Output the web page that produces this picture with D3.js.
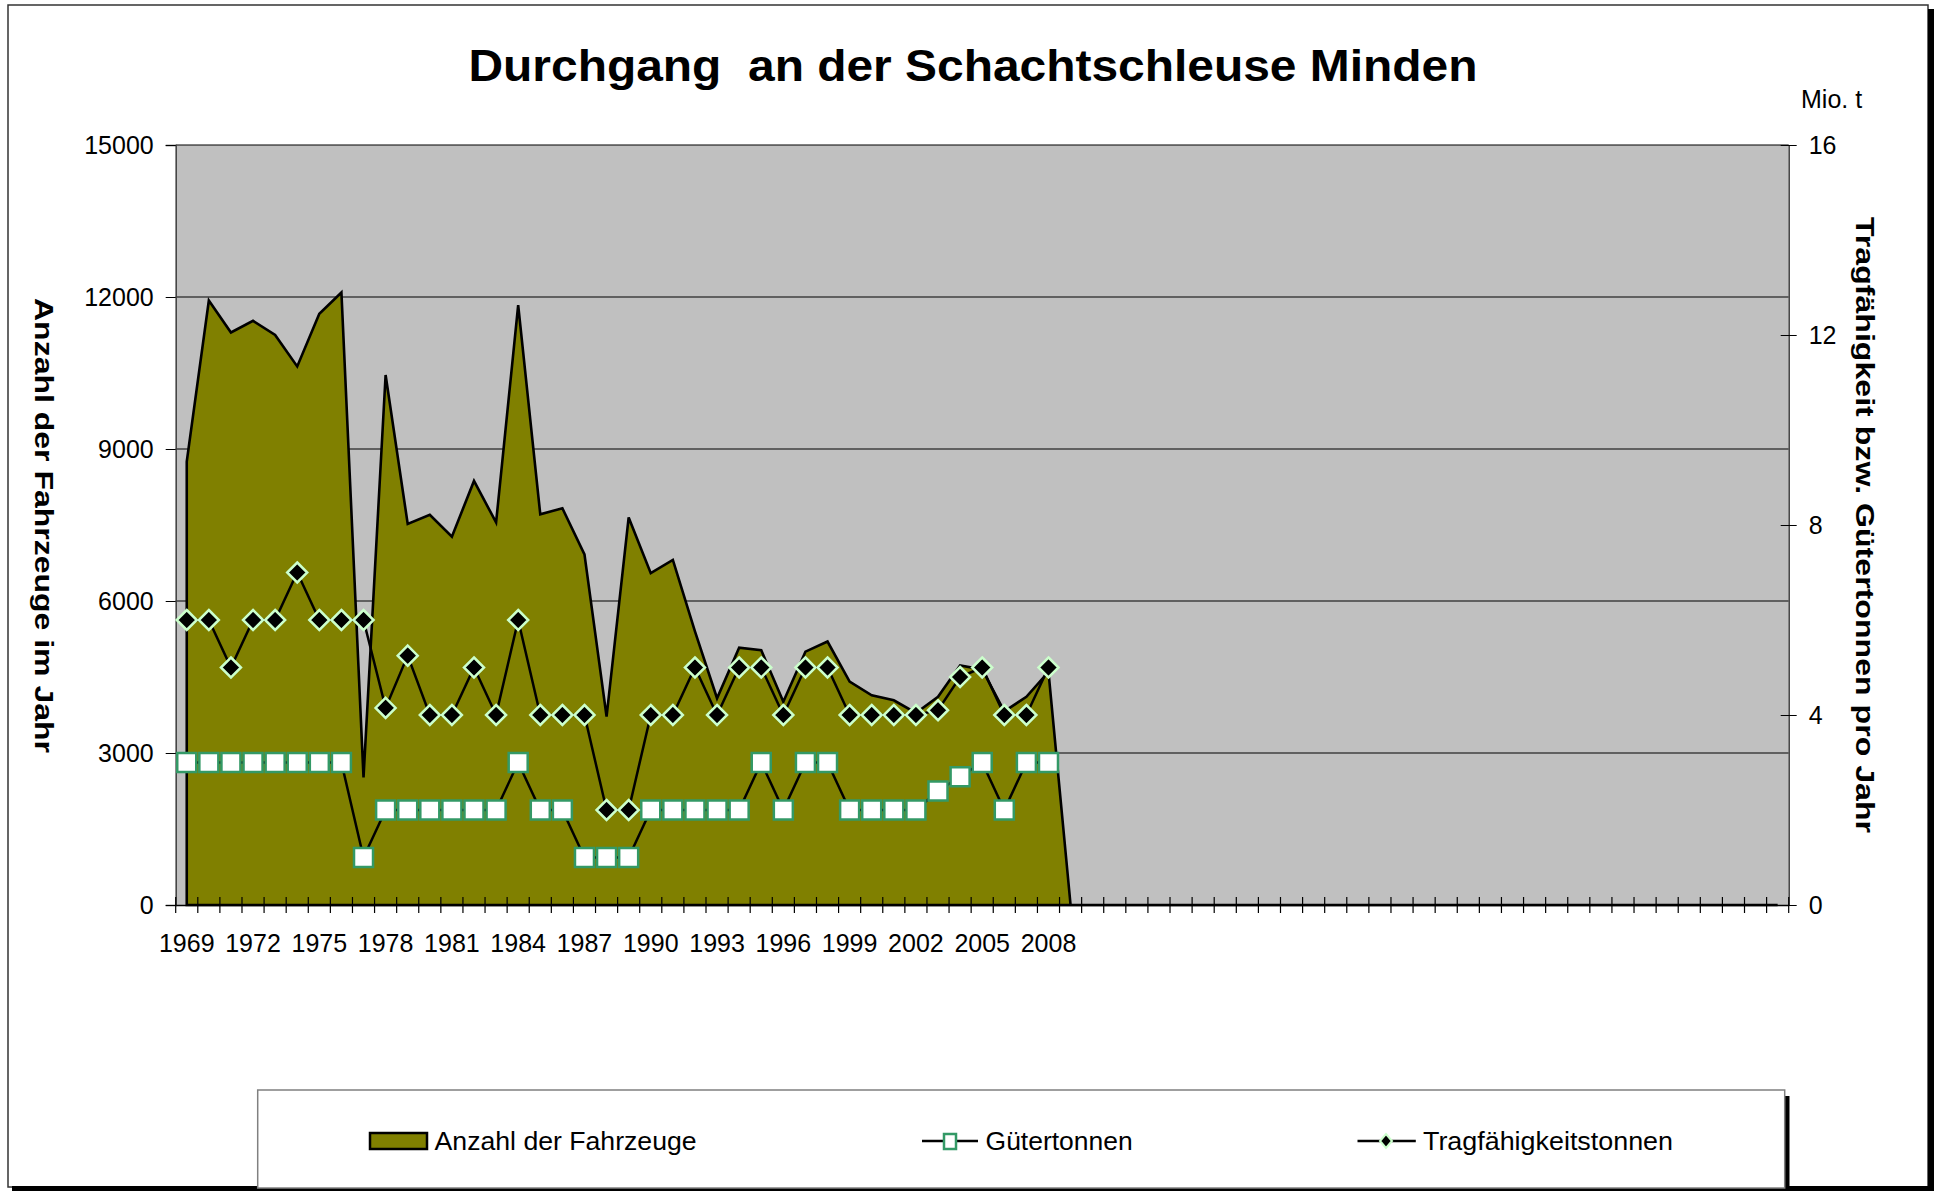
<!DOCTYPE html>
<html>
<head>
<meta charset="utf-8">
<script src="https://cdn.jsdelivr.net/npm/d3@7"></script>
<style>
  body { margin: 0; background: #fff; }
  svg { display: block; font-family: "Liberation Sans", Arial, sans-serif; }
</style>
</head>
<body>
<div id="chart"></div>
<script>
// Jahre mit Beschriftung (danach folgen leere Kategorien)
var years = [1969, 1970, 1971, 1972, 1973, 1974, 1975, 1976, 1977, 1978,
  1979, 1980, 1981, 1982, 1983, 1984, 1985, 1986, 1987, 1988,
  1989, 1990, 1991, 1992, 1993, 1994, 1995, 1996, 1997, 1998,
  1999, 2000, 2001, 2002, 2003, 2004, 2005, 2006, 2007, 2008]

// Anzahl der Fahrzeuge (linke Achse), leere Jahre liegen auf 0
var vehicles = [8750, 11930, 11300, 11530, 11250, 10630, 11670, 12090, 2520, 10460,
  7520, 7700, 7270, 8370, 7550, 11840, 7710, 7830, 6920, 3720,
  7650, 6550, 6810, 5400, 4080, 5080, 5030, 4010, 5000, 5200,
  4410, 4140, 4040, 3790, 4110, 4730, 4650, 3820, 4110, 4600,
  0, 0, 0, 0, 0, 0, 0, 0, 0, 0,
  0, 0, 0, 0, 0, 0, 0, 0, 0, 0,
  0, 0, 0, 0, 0, 0, 0, 0, 0, 0,
  0, 0, 0]

// Gütertonnen (Mio. t, rechte Achse)
var goods = [3, 3, 3, 3, 3, 3, 3, 3, 1, 2,
  2, 2, 2, 2, 2, 3, 2, 2, 1, 1,
  1, 2, 2, 2, 2, 2, 3, 2, 3, 3,
  2, 2, 2, 2, 2.4, 2.7, 3, 2, 3, 3]

// Tragfähigkeitstonnen (Mio. t, rechte Achse)
var capacity = [6, 6, 5, 6, 6, 7, 6, 6, 6, 4.15,
  5.25, 4, 4, 5, 4, 6, 4, 4, 4, 2,
  2, 4, 4, 5, 4, 5, 5, 4, 5, 5,
  4, 4, 4, 4, 4.1, 4.8, 5, 4, 4, 5]

var leftTicks = [0, 3000, 6000, 9000, 12000, 15000]
var rightTicks = [0, 4, 8, 12, 16]

var width = 1939
var height = 1191
var plot = { left: 175.7, right: 1788.7, top: 145, bottom: 905 }

var svg = d3.select('#chart')
  .append('svg')
  .attr('width', width)
  .attr('height', height)

// Rahmen mit Schatten
svg.append('rect')
  .attr('x', 8).attr('y', 5)
  .attr('width', 1920).attr('height', 1182)
  .attr('fill', '#fff')
  .attr('stroke', '#333')
  .attr('stroke-width', 1.5)
svg.append('rect')
  .attr('x', 1928).attr('y', 9)
  .attr('width', 6).attr('height', 1182)
  .attr('fill', '#000')
svg.append('rect')
  .attr('x', 12).attr('y', 1186)
  .attr('width', 1922).attr('height', 5)
  .attr('fill', '#000')

var x = d3.scaleBand()
  .domain(d3.range(vehicles.length))
  .range([plot.left, plot.right])
var cx = function (i) { return x(i) + x.bandwidth() / 2 }

var yLeft = d3.scaleLinear()
  .domain([0, 15000])
  .range([plot.bottom, plot.top])
var yRight = d3.scaleLinear()
  .domain([0, 16])
  .range([plot.bottom, plot.top])

svg.append('rect')
  .attr('x', plot.left).attr('y', plot.top)
  .attr('width', plot.right - plot.left)
  .attr('height', plot.bottom - plot.top)
  .attr('fill', '#c0c0c0')

// Gitterlinien
svg.append('g')
  .selectAll('line')
  .data(leftTicks.slice(1))
  .enter()
  .append('line')
  .attr('x1', plot.left)
  .attr('x2', plot.right)
  .attr('y1', function (d) { return yLeft(d) })
  .attr('y2', function (d) { return yLeft(d) })
  .attr('stroke', '#000')
  .attr('stroke-width', 1.2)

// Fläche: Anzahl der Fahrzeuge
var area = d3.area()
  .x(function (d, i) { return cx(i) })
  .y0(yLeft(0))
  .y1(function (d) { return yLeft(d) })

svg.append('path')
  .datum(vehicles)
  .attr('d', function (d) { return area(d) + 'Z' })
  .attr('fill', '#808000')
  .attr('stroke', '#000')
  .attr('stroke-width', 2.6)
  .attr('stroke-linejoin', 'miter')

// Achsen
var leftAxis = d3.axisLeft(yLeft)
  .tickValues(leftTicks)
  .tickFormat(d3.format('d'))
  .tickSize(10)
  .tickPadding(12)
var gLeft = svg.append('g')
  .attr('transform', 'translate(' + plot.left + ',0)')
  .call(leftAxis)
gLeft.select('.domain').attr('stroke', '#404040').attr('stroke-width', 1.5)

var rightAxis = d3.axisRight(yRight)
  .tickValues(rightTicks)
  .tickSizeInner(8)
  .tickSizeOuter(0)
  .tickPadding(12)
var gRight = svg.append('g')
  .attr('transform', 'translate(' + plot.right + ',0)')
  .call(rightAxis)
gRight.select('.domain').attr('stroke', '#404040').attr('stroke-width', 1.5)
gRight.selectAll('.tick line').attr('x1', -8)

var bottomAxis = d3.axisBottom(x)
  .tickValues(d3.range(vehicles.length + 1))
  .tickSizeInner(8)
  .tickSizeOuter(0)
  .tickFormat('')
var gBottom = svg.append('g')
  .attr('transform', 'translate(0,' + plot.bottom + ')')
  .call(bottomAxis)
gBottom.selectAll('.tick')
  .attr('transform', function (d) { return 'translate(' + (plot.left + d * x.bandwidth()) + ',0)' })
gBottom.selectAll('.tick line').attr('y1', -8).attr('stroke-width', 1.2)
gBottom.select('.domain').attr('stroke', '#000').attr('stroke-width', 1.5)

svg.selectAll('.tick text')
  .attr('font-size', 25)
  .attr('font-family', '"Liberation Sans", Arial, sans-serif')
  .attr('fill', '#000')

// Jahresbeschriftung, jede dritte Kategorie
svg.append('g')
  .selectAll('text')
  .data(years.filter(function (d, i) { return i % 3 === 0 }))
  .enter()
  .append('text')
  .attr('x', function (d) { return cx(years.indexOf(d)) })
  .attr('y', 952)
  .attr('text-anchor', 'middle')
  .attr('font-size', 25)
  .text(function (d) { return d })

// Linie Gütertonnen
var lineGoods = d3.line()
  .x(function (d, i) { return cx(i) })
  .y(function (d) { return yRight(d) })
svg.append('path')
  .datum(goods)
  .attr('d', lineGoods)
  .attr('fill', 'none')
  .attr('stroke', '#000')
  .attr('stroke-width', 2.5)
svg.append('g')
  .selectAll('rect')
  .data(goods)
  .enter()
  .append('rect')
  .attr('x', function (d, i) { return cx(i) - 9.5 })
  .attr('y', function (d) { return yRight(d) - 9.5 })
  .attr('width', 19)
  .attr('height', 19)
  .attr('fill', '#fff')
  .attr('stroke', '#339966')
  .attr('stroke-width', 2.5)

// Linie Tragfähigkeitstonnen
svg.append('path')
  .datum(capacity)
  .attr('d', lineGoods)
  .attr('fill', 'none')
  .attr('stroke', '#000')
  .attr('stroke-width', 2.5)
var diamond = 'M0,-10L10,0L0,10L-10,0Z'
svg.append('g')
  .selectAll('path')
  .data(capacity)
  .enter()
  .append('path')
  .attr('d', diamond)
  .attr('transform', function (d, i) { return 'translate(' + cx(i) + ',' + yRight(d) + ')' })
  .attr('fill', '#000')
  .attr('stroke', '#ccffcc')
  .attr('stroke-width', 2.5)

// Titel und Achsentitel
svg.append('text')
  .attr('x', 973)
  .attr('y', 81)
  .attr('text-anchor', 'middle')
  .attr('font-size', 44)
  .attr('font-weight', 'bold')
  .attr('textLength', 1009)
  .attr('lengthAdjust', 'spacingAndGlyphs')
  .style('white-space', 'pre')
  .text('Durchgang  an der Schachtschleuse Minden')

svg.append('text')
  .attr('transform', 'translate(35,525.5) rotate(90)')
  .attr('text-anchor', 'middle')
  .attr('font-size', 26)
  .attr('font-weight', 'bold')
  .attr('textLength', 455)
  .attr('lengthAdjust', 'spacingAndGlyphs')
  .text('Anzahl der Fahrzeuge im Jahr')

svg.append('text')
  .attr('transform', 'translate(1856,525) rotate(90)')
  .attr('text-anchor', 'middle')
  .attr('font-size', 26)
  .attr('font-weight', 'bold')
  .attr('textLength', 616)
  .attr('lengthAdjust', 'spacingAndGlyphs')
  .text('Tragfähigkeit bzw. Gütertonnen pro Jahr')

svg.append('text')
  .attr('x', 1801)
  .attr('y', 108)
  .attr('font-size', 25)
  .text('Mio. t')

// Legende
var legend = svg.append('g')
legend.append('rect')
  .attr('x', 1784.5).attr('y', 1096)
  .attr('width', 5).attr('height', 92)
  .attr('fill', '#000')
legend.append('rect')
  .attr('x', 257.7).attr('y', 1090)
  .attr('width', 1527).attr('height', 98)
  .attr('fill', '#fff')
  .attr('stroke', '#808080')
  .attr('stroke-width', 1.5)

legend.append('rect')
  .attr('x', 370).attr('y', 1133)
  .attr('width', 57).attr('height', 16)
  .attr('fill', '#808000')
  .attr('stroke', '#000')
  .attr('stroke-width', 2.5)
legend.append('text')
  .attr('x', 434.6).attr('y', 1150)
  .attr('font-size', 25)
  .attr('textLength', 262)
  .attr('lengthAdjust', 'spacingAndGlyphs')
  .text('Anzahl der Fahrzeuge')

legend.append('line')
  .attr('x1', 922).attr('x2', 978)
  .attr('y1', 1141).attr('y2', 1141)
  .attr('stroke', '#000').attr('stroke-width', 2.5)
legend.append('rect')
  .attr('x', 944).attr('y', 1134)
  .attr('width', 12).attr('height', 15)
  .attr('fill', '#fff')
  .attr('stroke', '#339966')
  .attr('stroke-width', 2.5)
legend.append('text')
  .attr('x', 985.6).attr('y', 1150)
  .attr('font-size', 25)
  .attr('textLength', 147)
  .attr('lengthAdjust', 'spacingAndGlyphs')
  .text('Gütertonnen')

legend.append('line')
  .attr('x1', 1357.5).attr('x2', 1415.8)
  .attr('y1', 1141).attr('y2', 1141)
  .attr('stroke', '#000').attr('stroke-width', 2.5)
legend.append('path')
  .attr('d', 'M0,-7L6,0L0,7L-6,0Z')
  .attr('transform', 'translate(1386,1141)')
  .attr('fill', '#000')
  .attr('stroke', '#ccffcc')
  .attr('stroke-width', 2)
legend.append('text')
  .attr('x', 1423).attr('y', 1150)
  .attr('font-size', 25)
  .attr('textLength', 250)
  .attr('lengthAdjust', 'spacingAndGlyphs')
  .text('Tragfähigkeitstonnen')
</script>
</body>
</html>
